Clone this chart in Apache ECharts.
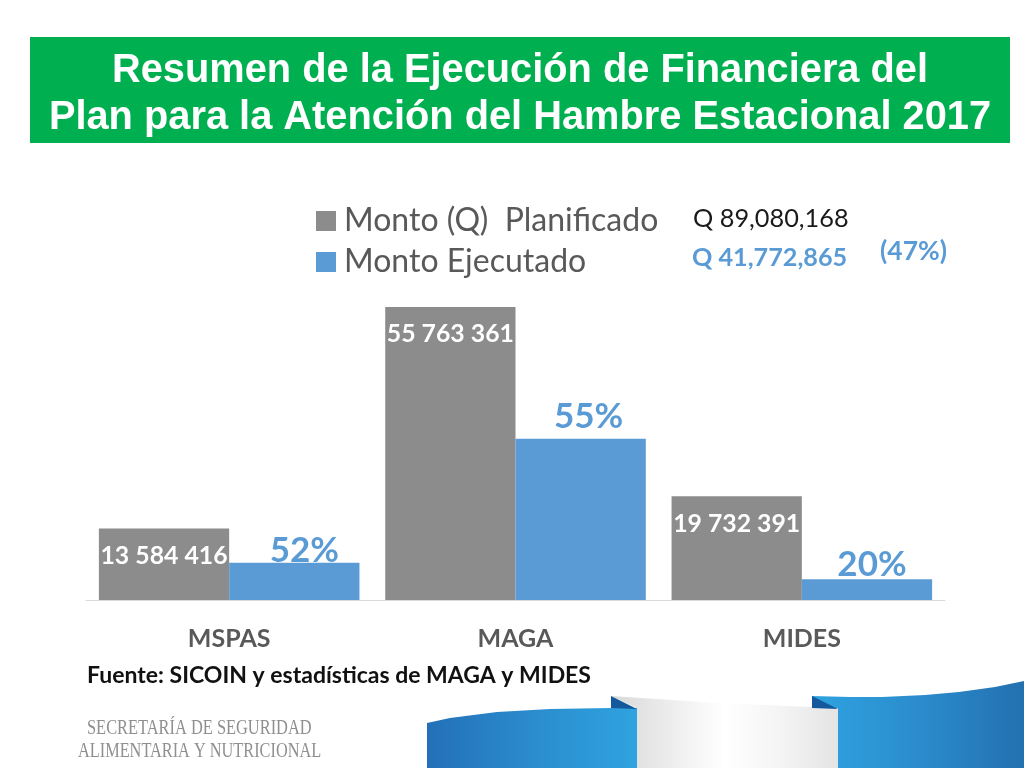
<!DOCTYPE html>
<html>
<head>
<meta charset="utf-8">
<style>html,body{margin:0;background:#fff}#chart{width:1024px;height:768px}</style>
<script src="https://cdn.jsdelivr.net/npm/echarts@6/dist/echarts.min.js"></script>
</head>
<body>
<div id="chart"></div>
<script>
const categories = ['MSPAS', 'MAGA', 'MIDES']
const planificado = [13584416, 55763361, 19732391]
const ejecutado = [7100000, 30700000, 3972865]
const porcentajes = ['52%', '55%', '20%']
const seriesNames = ['Monto (Q)  Planificado', 'Monto Ejecutado']
const titleLines = ['Resumen de la Ejecución de Financiera del', 'Plan para la Atención del Hambre Estacional 2017']

const GREY = '#8c8c8c'
const BLUE = '#5b9bd5'
const FONT = 'Lato, "Open Sans", sans-serif'
const ARIAL = '"Liberation Sans", Arial, sans-serif'
const SERIF = '"Liberation Serif", serif'
// el % de cada barra no queda centrado en el original
const pctOffsets = [[10, 9], [8, -1], [5, 6]]

function spaced(v) {
  return String(v).replace(/\B(?=(\d{3})+$)/g, ' ')
}

function txt(x, y, text, size, color, extra, scaleX) {
  return {
    type: 'text', x: x, y: y, scaleX: scaleX || 1,
    style: Object.assign({ text: text, fontFamily: FONT, fontSize: size, fill: color, verticalAlign: 'middle' }, extra)
  }
}

function hgrad(c) {
  return new echarts.graphic.LinearGradient(0, 0, 1, 0, c.map((color, i) => ({ offset: i / (c.length - 1), color: color })))
}

function poly(points, fill) {
  return { type: 'polygon', shape: { points: points }, style: { fill: fill } }
}

const chart = echarts.init(document.getElementById('chart'), null, { renderer: 'canvas' })
chart.setOption({
  animation: false,
  backgroundColor: '#fff',
  legend: {
    orient: 'vertical', left: 311, top: 200,
    itemWidth: 20, itemHeight: 20, itemGap: 9,
    icon: 'rect',
    selectedMode: false,
    textStyle: { fontFamily: FONT, fontSize: 32, color: '#595959', padding: [0, 0, 0, 3] },
    data: seriesNames
  },
  grid: { left: 86, right: 79, top: 307, bottom: 168 },
  xAxis: {
    type: 'category', data: categories,
    axisLine: { lineStyle: { color: '#d9d9d9', width: 1 } },
    axisTick: { show: false },
    axisLabel: { fontFamily: FONT, fontSize: 25, fontWeight: 'bold', color: '#595959', margin: 26 }
  },
  yAxis: { type: 'value', min: 0, max: 55763361, show: false, splitLine: { show: false } },
  series: [
    {
      name: seriesNames[0], type: 'bar', data: planificado,
      barGap: 0, barCategoryGap: '9%',
      itemStyle: { color: GREY },
      label: {
        show: true, position: 'insideTop', distance: 15,
        fontFamily: FONT, fontSize: 24.8, fontWeight: 'bold', color: '#fff',
        formatter: p => spaced(p.value)
      }
    },
    {
      name: seriesNames[1], type: 'bar',
      data: ejecutado.map((v, i) => ({ value: v, label: { offset: pctOffsets[i] } })),
      itemStyle: { color: BLUE },
      label: {
        show: true, position: 'top', distance: 3,
        fontFamily: FONT, fontSize: 35, fontWeight: 'bold', color: BLUE,
        formatter: p => porcentajes[p.dataIndex]
      }
    }
  ],
  graphic: [
    { type: 'rect', shape: { x: 30, y: 37, width: 980, height: 106 }, style: { fill: '#00b050' } },
    txt(520, 71, titleLines[0], 39.8, '#fff', { fontFamily: ARIAL, fontWeight: 'bold', align: 'center' }),
    txt(520, 118, titleLines[1], 39.8, '#fff', { fontFamily: ARIAL, fontWeight: 'bold', align: 'center' }),
    txt(693, 219, 'Q 89,080,168', 25.3, '#1a1a1a'),
    txt(692, 258, 'Q 41,772,865', 25.2, BLUE, { fontWeight: 'bold' }),
    txt(880, 251, '(47%)', 26.5, BLUE, { fontWeight: 'bold' }),
    txt(87, 676, 'Fuente: SICOIN y estadísticas de MAGA y MIDES', 23, '#111', { fontWeight: 'bold' }),
    txt(87, 729, 'SECRETARÍA DE SEGURIDAD', 20, '#8f8f8f', { fontFamily: SERIF }, 0.82),
    txt(78, 752, 'ALIMENTARIA Y NUTRICIONAL', 20, '#8f8f8f', { fontFamily: SERIF }, 0.815),
    // cinta decorativa inferior
    poly([[611, 696], [717, 703], [812, 707], [838, 708], [838, 768], [637, 768], [637, 708]], hgrad(['#d8d8d8', '#ececec', '#ffffff', '#f4f4f4', '#e4e4e4'])),
    poly([[427, 723], [450, 718], [497, 712], [550, 709], [611, 708], [637, 708], [637, 768], [427, 768]], hgrad(['#2370b8', '#2b8ccd', '#2fa3e0'])),
    poly([[611, 696], [637, 709], [611, 708]], '#15589c'),
    poly([[812, 696], [850, 697], [882, 697], [925, 695], [959, 692], [995, 687], [1024, 681], [1024, 768], [838, 768], [838, 708], [812, 708]], hgrad(['#2fa3e0', '#2b8ccd', '#2370b0'])),
    poly([[812, 696], [838, 709], [812, 708]], '#15589c')
  ]
})
</script>
</body>
</html>
